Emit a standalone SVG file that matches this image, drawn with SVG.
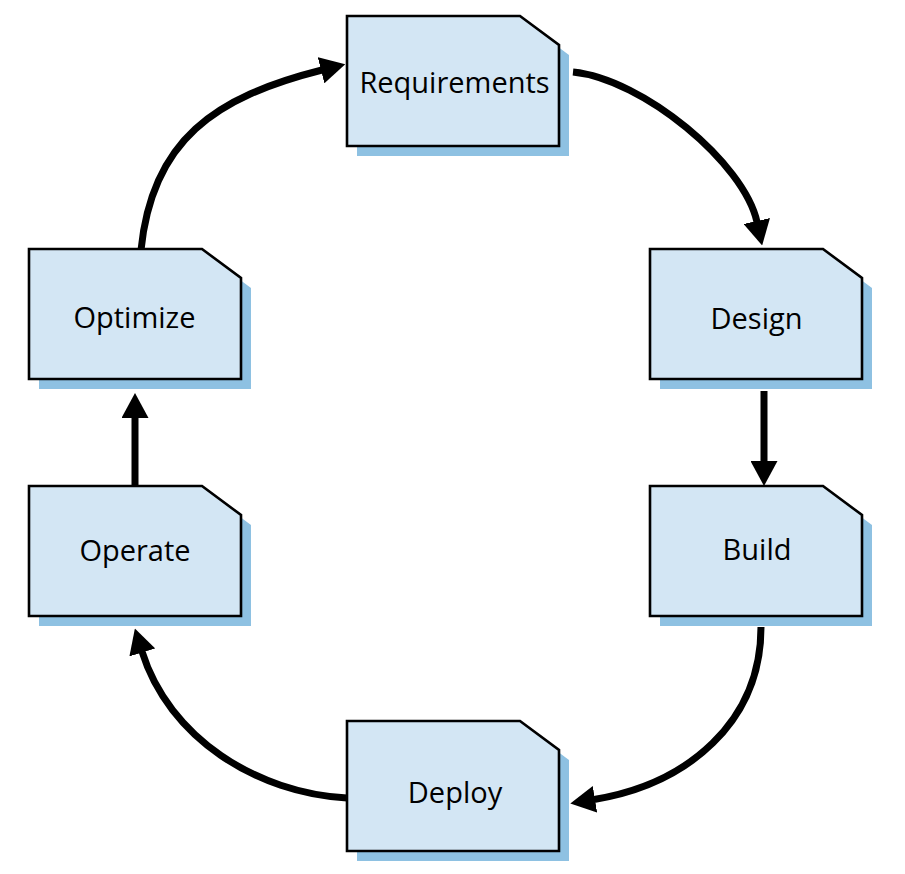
<svg xmlns="http://www.w3.org/2000/svg" xmlns:xlink="http://www.w3.org/1999/xlink" width="905" height="874" viewBox="0 0 905 874">
<style>
.shadow{fill:#8ec1e2;stroke:none}
.box{fill:#d3e6f4;stroke:#000;stroke-width:2.6;stroke-linejoin:miter}
.lbl{font-family:"Open Sans","Noto Sans","Liberation Sans",sans-serif;font-size:29px;fill:#000;text-anchor:middle}
.conn{fill:none;stroke:#000;stroke-width:7;stroke-linecap:butt}
</style>
<defs>
<path id="card" d="M0,0 H173 L212,29 V130 H0 Z"/>
<marker id="ah" viewBox="0 0 25 27" refX="1" refY="13.5" markerWidth="25" markerHeight="27" markerUnits="userSpaceOnUse" orient="auto">
<path d="M0,0 L25,13.5 L0,27 Z" fill="#000"/>
</marker>
</defs>
<rect width="905" height="874" fill="#fff"/>
<g id="connectors">
<path class="conn" marker-end="url(#ah)" d="M573,72 C643,79 744,163 757,222"/>
<path class="conn" marker-end="url(#ah)" d="M764,391 V462"/>
<path class="conn" marker-end="url(#ah)" d="M761,627 C761,722 688,784 594,799.5"/>
<path class="conn" marker-end="url(#ah)" d="M347,798 C257,793.5 168.7,737.5 142,651.5"/>
<path class="conn" marker-end="url(#ah)" d="M135,486 V417"/>
<path class="conn" marker-end="url(#ah)" d="M141,250 C152,140 215,97 322,70"/>
</g>
<g id="requirements">
<use xlink:href="#card" class="shadow" x="357" y="26"/>
<use xlink:href="#card" class="box" x="347" y="16"/>
<text class="lbl" x="454.5" y="93">Requirements</text>
</g>
<g id="design">
<use xlink:href="#card" class="shadow" x="660" y="259"/>
<use xlink:href="#card" class="box" x="650" y="249"/>
<text class="lbl" x="756.5" y="329">Design</text>
</g>
<g id="build">
<use xlink:href="#card" class="shadow" x="660" y="496"/>
<use xlink:href="#card" class="box" x="650" y="486"/>
<text class="lbl" x="757" y="560">Build</text>
</g>
<g id="deploy">
<use xlink:href="#card" class="shadow" x="357" y="731"/>
<use xlink:href="#card" class="box" x="347" y="721"/>
<text class="lbl" x="455" y="803">Deploy</text>
</g>
<g id="operate">
<use xlink:href="#card" class="shadow" x="39" y="496"/>
<use xlink:href="#card" class="box" x="29" y="486"/>
<text class="lbl" x="135" y="561">Operate</text>
</g>
<g id="optimize">
<use xlink:href="#card" class="shadow" x="39" y="259"/>
<use xlink:href="#card" class="box" x="29" y="249"/>
<text class="lbl" x="134.5" y="328">Optimize</text>
</g>
</svg>
